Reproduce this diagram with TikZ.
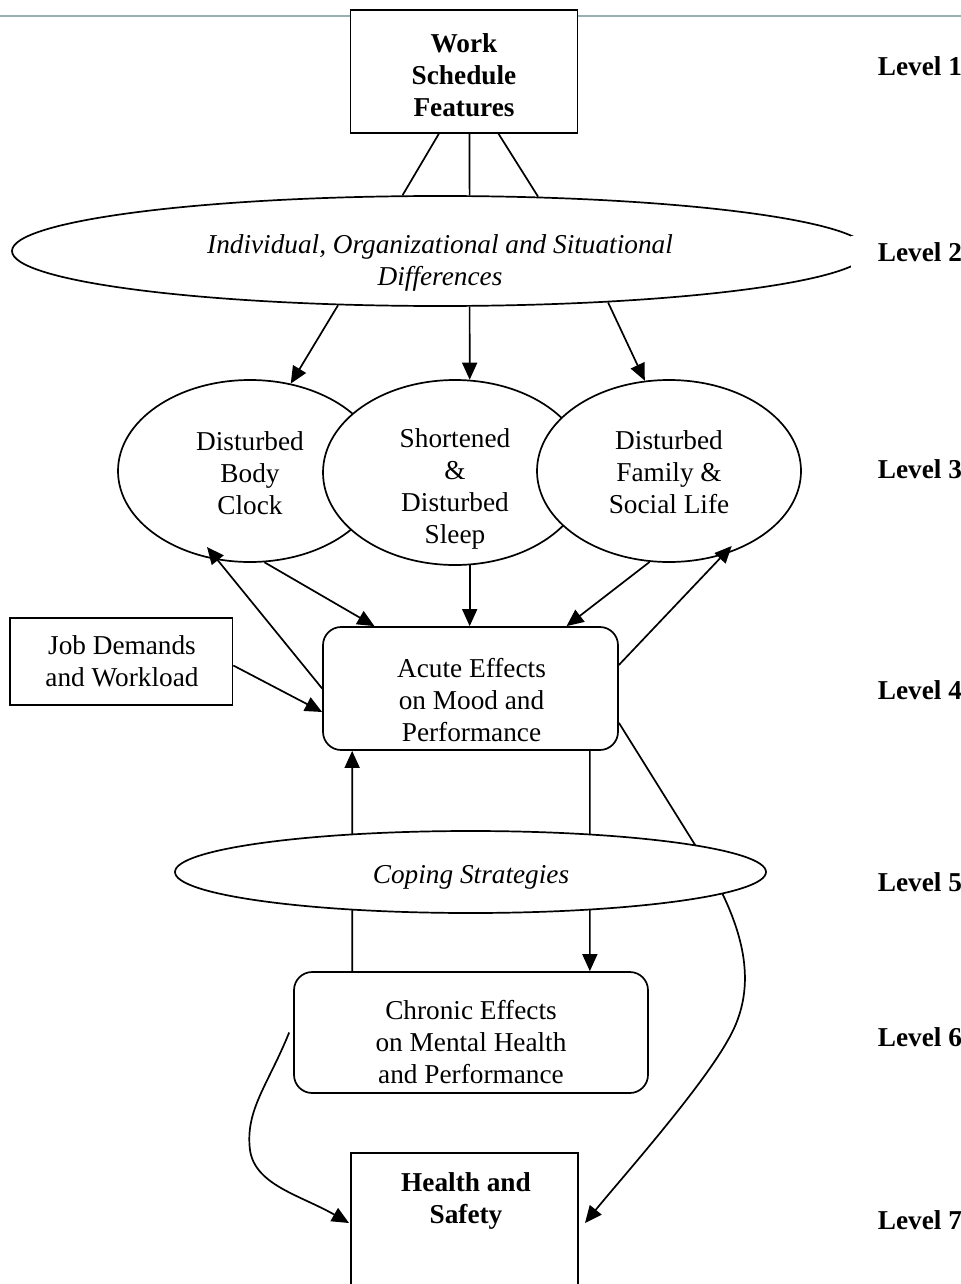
\documentclass[tikz,border=0pt]{standalone}
\usepackage{fontspec}
\setmainfont{Liberation Serif}
\usetikzlibrary{arrows.meta,positioning,calc,shapes.geometric}
\definecolor{ruleteal}{RGB}{150,178,180}
\newcommand{\bodyfont}{\fontsize{12}{14}\selectfont}
\tikzset{every picture/.style={line width=0.75pt}}
\tikzset{
  txt/.style={align=center, inner sep=0pt, font=\bodyfont},
  sqbox/.style={draw, fill=white, inner sep=0pt},
  rbox/.style={draw, fill=white, rounded corners=8pt, inner sep=0pt},
  oval/.style={draw, fill=white, ellipse, inner sep=0pt},
  arr/.style={-{Triangle[length=7.5pt,width=6.6pt]}},
  lvl/.style={anchor=west, fill=white, inner xsep=11.9pt, inner ysep=3pt, font=\bodyfont\bfseries}
}

\begin{document}
\begin{tikzpicture}[x=0.44pt,y=0.44pt]
    \useasboundingbox (0,0) rectangle (961,-1284);
    % 层级模型
    \draw[ruleteal, line width=0.9pt] (0,-15.7) -- (961,-15.7);
    \node[sqbox, minimum width=99.88pt, minimum height=54.12pt] (wsf) at (464,-71.5) {};
    \node[txt, font=\bodyfont\bfseries] (wsf-t) at (464,-75.5) {Work\\Schedule\\Features};
    \node[oval, minimum width=376.64pt, minimum height=48.4pt] (diff) at (440,-251) {};
    \node[txt, font=\bodyfont\itshape] (diff-t) at (440,-263) {Individual, Organizational and Situational\\Differences};
    \draw (wsf.-112) -- (diff.124.4);
    \draw (wsf.-85.4) -- (diff.62.2);
    \draw (wsf.-61.4) -- (diff.29.2);
    \node[oval, minimum width=116.16pt, minimum height=80.08pt] (body) at (250,-471) {};
    \node[txt] (body-t) at (250,-473) {Disturbed\\Body\\Clock};
    \node[oval, minimum width=116.16pt, minimum height=81.4pt] (sleep) at (455,-472.5) {};
    \node[txt] (sleep-t) at (455,-489) {Shortened\\\&\\Disturbed\\Sleep};
    \node[oval, minimum width=116.16pt, minimum height=80.08pt] (family) at (669,-471) {};
    \node[txt] (family-t) at (669,-472) {Disturbed\\Family \&\\Social Life};
    \draw[arr] (diff.-152) -- (body.65);
    \draw[arr] (diff.-62.2) -- (sleep.81);
    \draw[arr] (diff.-17.6) -- (family.105);
    \node[rbox, minimum width=129.8pt, minimum height=54.12pt] (acute) at (470.5,-688.5) {};
    \node[txt] (acute-t) at (471.5,-700) {Acute Effects\\on Mood and\\Performance};
    \node[sqbox, minimum width=97.9pt, minimum height=38.28pt] (job) at (121.25,-661.5) {};
    \node[txt] (job-t) at (122,-661.5) {Job Demands\\and Workload};
    \draw[arr] (body.-81) -- (acute.147.5);
    \draw[arr] (sleep.-81) -- (sleep.-81 |- acute.north);
    \draw[arr] (family.-102.5) -- (acute.33.3);
    \draw[arr] (acute.west) -- ($(body)+(-43,-76)$);
    \draw[arr] (acute.9) -- ($(family)+(62.7,-75)$);
    \draw[arr] ($(job.east)+(0,-4)$) -- (acute.189);
    \node[rbox, minimum width=155.76pt, minimum height=53.24pt] (chronic) at (471,-1032.5) {};
    \node[txt] (chronic-t) at (471,-1042) {Chronic Effects\\on Mental Health\\and Performance};
    \node[sqbox, minimum width=99.88pt, minimum height=64.68pt] (health) at (464.5,-1226.5) {};
    \node[txt, font=\bodyfont\bfseries] (health-t) at (466,-1201) {Health and\\Safety};
    \draw[arr] ($(chronic.north west)+(59,0)$) -- ($(acute.south west)+(30,0)$);
    \draw[arr] ($(acute.south east)+(-29,0)$) -- ($(chronic.north east)+(-59,0)$);
    \draw[arr] (acute.-13.2) -- (697,-848) .. controls (745,-925) and (760,-985) .. (728,-1040)
        .. controls (700,-1090) and (620,-1180) .. ($(health)+(120.5,3.5)$);
    \draw[arr] ($(chronic.west)+(-4,0)$) .. controls (268,-1085) and (245,-1110) .. (250,-1150)
        .. controls (255,-1185) and (300,-1195) .. ($(health)+(-115.5,3.5)$);
    \node[oval, minimum width=260.04pt, minimum height=36.08pt] (coping) at (470.5,-872) {};
    \node[txt, font=\bodyfont\itshape] (coping-t) at (471,-877) {Coping Strategies};
    % 层级标签
    \node[lvl] (lv1) at (850,-66) {Level 1};
    \node[lvl] (lv2) at (850,-252) {Level 2};
    \node[lvl] (lv3) at (850,-469) {Level 3};
    \node[lvl] (lv4) at (850,-690) {Level 4};
    \node[lvl] (lv5) at (850,-882) {Level 5};
    \node[lvl] (lv6) at (850,-1037) {Level 6};
    \node[lvl] (lv7) at (850,-1220) {Level 7};
\end{tikzpicture}
\end{document}
